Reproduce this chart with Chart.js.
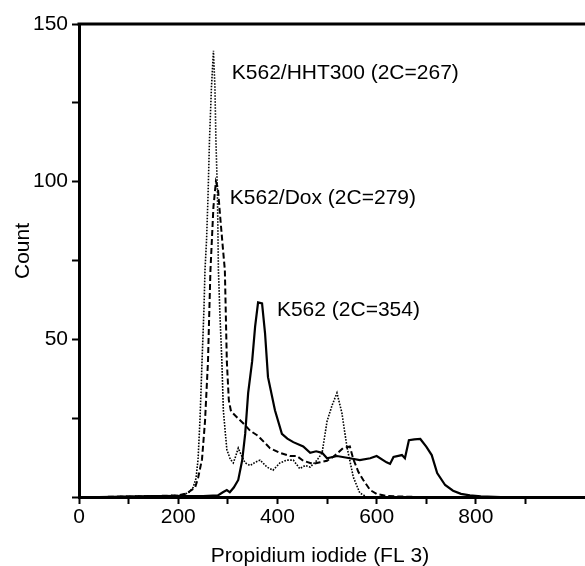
<!DOCTYPE html>
<html lang="en">
<head>
    <meta charset="UTF-8">
    <title>Propidium iodide histograms</title>
    <script src="https://cdn.jsdelivr.net/npm/chart.js"></script>
    <style>
        body {
            margin: 0;
            background: #fff;
        }
        #wrap {
            width: 585px;
            height: 566px;
        }
    </style>
</head>
<body>

<div id="wrap"><canvas id="myChart"></canvas></div>

<script>
    // FL3 channel / count pairs for each cell line
    const hhtX = [40, 150, 200, 215, 222, 230, 236, 240, 244, 248, 252, 254, 257, 260, 263, 267, 271, 274, 276, 279, 281, 284, 288, 291, 298, 305, 311, 316, 321, 328, 335, 345, 355, 365, 379, 391, 405, 419, 432, 445, 456, 466, 480, 490, 500, 510, 520, 530, 540, 553, 566, 580, 640];
    const hhtY = [0, 0.3, 0.5, 1, 1.5, 3, 6, 12, 25, 43, 60, 72, 81, 95, 113, 130, 141.5, 130, 113, 97, 72, 58, 43, 27.5, 15, 12, 10.8, 13, 15.5, 13, 10.8, 10, 11, 11.7, 9.5, 8.5, 10.8, 11.7, 11.7, 9, 10, 9.5, 11.7, 14, 24, 29, 33, 26.6, 16, 6.3, 1.3, 0, 0];

    const doxX = [40, 150, 200, 215, 225, 234, 240, 248, 254, 260, 262, 265, 271, 276, 280, 284, 290, 294, 298, 302, 306, 310, 320, 331, 345, 359, 365, 385, 405, 425, 439, 452, 472, 486, 500, 512, 522, 532, 546, 553, 563, 573, 587, 600, 620, 680];
    const doxY = [0, 0.3, 0.5, 1, 2, 3, 6, 12, 24, 43, 55, 72, 92, 100, 98, 90, 79, 72, 43, 30.7, 27.5, 26.6, 25, 23.4, 21, 19.6, 18.7, 15.5, 14, 13, 13, 11.5, 10.5, 11, 11.5, 12.7, 14, 15.5, 16, 12, 8, 5.4, 2.2, 1, 0.3, 0];

    const k562X = [40, 150, 250, 280, 290, 298, 304, 312, 321, 329, 335, 341, 349, 355, 361, 369, 375, 381, 395, 409, 420, 432, 452, 466, 478, 490, 500, 520, 546, 566, 587, 600, 620, 627, 634, 651, 657, 665, 676, 688, 700, 711, 722, 738, 754, 770, 788, 810, 850];
    const k562Y = [0, 0.3, 0.3, 0.5, 1.5, 2.2, 1.5, 3, 5.4, 11.7, 20, 33, 43, 54, 61.7, 61.4, 52, 38, 27.5, 20, 18.5, 17.4, 16, 14, 14.5, 14, 12.3, 13, 12.3, 11.7, 12.3, 13, 11, 10.5, 12.7, 13.3, 12.3, 18, 18.3, 18.4, 16, 13.3, 7.6, 3.8, 2, 1, 0.5, 0.2, 0];

    const seriesNames = ['K562/HHT300 (2C=267)', 'K562/Dox (2C=279)', 'K562 (2C=354)'];
    const xTicks = [0, 100, 200, 300, 400, 500, 600, 700, 800, 900];
    const xTickLabels = ['0', '', '200', '', '400', '', '600', '', '800', ''];
    const yTicks = [0, 25, 50, 75, 100, 125, 150];
    const yTickLabels = ['', '', '50', '', '100', '', '150'];

    const fontFamily = '"Liberation Sans", Arial, sans-serif';

    function pairs(xs, ys) {
        return xs.map((x, i) => ({ x: x, y: ys[i] }));
    }

    // where each curve's name sits, in data units (left edge, middle of text)
    const notes = [
        { text: seriesNames[0], x: 308, y: 134.3 },
        { text: seriesNames[1], x: 304, y: 94.8 },
        { text: seriesNames[2], x: 399, y: 59.3 }
    ];

    const textPlugin = {
        id: 'textPlugin',
        afterDraw(chart) {
            const ctx = chart.ctx;
            const xs = chart.scales.x;
            const ys = chart.scales.y;
            const area = chart.chartArea;
            ctx.save();

            // top frame line
            ctx.strokeStyle = '#000';
            ctx.lineWidth = 3;
            ctx.beginPath();
            ctx.moveTo(area.left - 1.5, area.top);
            ctx.lineTo(area.right, area.top);
            ctx.stroke();

            ctx.fillStyle = '#000';
            ctx.font = '21px ' + fontFamily;
            ctx.textBaseline = 'middle';
            ctx.textAlign = 'left';
            notes.forEach(n => {
                ctx.fillText(n.text, xs.getPixelForValue(n.x), ys.getPixelForValue(n.y));
            });

            // axis titles
            ctx.textAlign = 'center';
            ctx.fillText('Propidium iodide (FL 3)', 320, 556);
            ctx.translate(23, 251);
            ctx.rotate(-Math.PI / 2);
            ctx.fillText('Count', 0, 0);
            ctx.restore();
        }
    };

    const ctx = document.getElementById('myChart').getContext('2d');
    const chart = new Chart(ctx, {
        type: 'scatter',
        data: {
            datasets: [
                {
                    label: seriesNames[0],
                    data: pairs(hhtX, hhtY),
                    showLine: true,
                    borderColor: '#000',
                    borderWidth: 1.6,
                    borderDash: [1.6, 1.4],
                    pointRadius: 0,
                    tension: 0
                },
                {
                    label: seriesNames[1],
                    data: pairs(doxX, doxY),
                    showLine: true,
                    borderColor: '#000',
                    borderWidth: 2,
                    borderDash: [6, 3],
                    pointRadius: 0,
                    tension: 0
                },
                {
                    label: seriesNames[2],
                    data: pairs(k562X, k562Y),
                    showLine: true,
                    borderColor: '#000',
                    borderWidth: 2.2,
                    pointRadius: 0,
                    tension: 0
                }
            ]
        },
        options: {
            responsive: true,
            maintainAspectRatio: false,
            animation: false,
            layout: {
                padding: { top: 24, right: 0, bottom: 0, left: 0 }
            },
            plugins: {
                legend: { display: false },
                tooltip: { enabled: false }
            },
            scales: {
                x: {
                    type: 'linear',
                    min: 0,
                    max: 1020,
                    afterBuildTicks: scale => {
                        scale.ticks = xTicks.map(v => ({ value: v }));
                    },
                    afterFit: scale => {
                        scale.height = 69;
                    },
                    grid: {
                        drawOnChartArea: false,
                        drawTicks: true,
                        tickLength: 7,
                        tickWidth: 2,
                        tickColor: '#000'
                    },
                    border: { display: true, width: 3, color: '#000' },
                    ticks: {
                        autoSkip: false,
                        maxRotation: 0,
                        padding: 1,
                        color: '#000',
                        font: { family: fontFamily, size: 21 },
                        callback: (value) => xTickLabels[xTicks.indexOf(value)] || ''
                    }
                },
                y: {
                    min: 0,
                    max: 150,
                    afterBuildTicks: scale => {
                        scale.ticks = yTicks.map(v => ({ value: v }));
                    },
                    afterFit: scale => {
                        scale.width = 79;
                    },
                    grid: {
                        drawOnChartArea: false,
                        drawTicks: true,
                        tickLength: 7,
                        tickWidth: 2,
                        tickColor: '#000'
                    },
                    border: { display: true, width: 3, color: '#000' },
                    ticks: {
                        padding: 4,
                        color: '#000',
                        font: { family: fontFamily, size: 21 },
                        callback: (value) => yTickLabels[yTicks.indexOf(value)] || ''
                    }
                }
            }
        },
        plugins: [textPlugin]
    });
</script>

</body>
</html>
